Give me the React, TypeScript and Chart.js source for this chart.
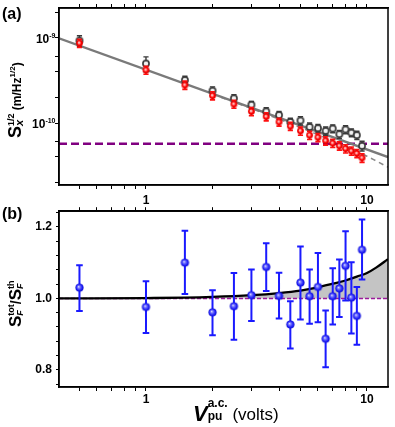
import React, { useEffect, useRef } from 'react';
import { Chart, registerables } from 'chart.js';

Chart.register(...registerables);

const FONT = '"Liberation Sans", Arial, Helvetica, sans-serif';

// ---------- shared x (pump voltage) ----------
const X_MIN = 0.404;
const X_MAX = 12.45;
const VOLTS = [0.5, 1, 1.5, 2, 2.5, 3, 3.5, 4, 4.5, 5, 5.5, 6, 6.5, 7, 7.5, 8, 8.5, 9, 9.5];
const X_TICKS = [0.5, 0.6, 0.7, 0.8, 0.9, 1, 2, 3, 4, 5, 6, 7, 8, 9, 10];
const X_LABELS: Record<string, string> = { '1': '1', '10': '10' };

// ---------- panel (a) ----------
const SX_TOTAL = [9.3e-10, 5.0e-10, 3.2e-10, 2.4e-10, 1.95e-10, 1.64e-10, 1.37e-10, 1.24e-10, 1.03e-10, 1.07e-10, 9.0e-11, 8.7e-11, 8.1e-11, 8.6e-11, 7.4e-11, 8.4e-11, 7.7e-11, 7.2e-11, 5.4e-11];
const SX_TOTAL_ERR = [1.3e-10, 1.0e-10, 3.5e-11, 2.6e-11, 2.1e-11, 1.6e-11, 1.4e-11, 1.3e-11, 1.1e-11, 1.2e-11, 1.0e-11, 9e-12, 9e-12, 9e-12, 8e-12, 9e-12, 8e-12, 8e-12, 7e-12];
const SX_CORR = [8.7e-10, 4.2e-10, 2.8e-10, 2.1e-10, 1.67e-10, 1.37e-10, 1.19e-10, 1.03e-10, 9.2e-11, 8.1e-11, 7.2e-11, 6.8e-11, 6.2e-11, 5.8e-11, 5.4e-11, 5.0e-11, 4.7e-11, 4.4e-11, 3.9e-11];
const SX_CORR_ERR = [9.5e-11, 4.6e-11, 3.1e-11, 2.3e-11, 1.8e-11, 1.5e-11, 1.3e-11, 1.1e-11, 1.0e-11, 9e-12, 8e-12, 7.5e-12, 7e-12, 6.5e-12, 6e-12, 5.5e-12, 5.2e-12, 4.8e-12, 4.5e-12];
const FIT_X = [0.404, 12.45];
const FIT_Y = [9.92e-10, 3.98e-11];
const MODEL_X = [2, 3, 4, 5, 6, 7, 8, 9, 10, 11, 12.45];
const MODEL_Y = [2.19e-10, 1.48e-10, 1.11e-10, 8.85e-11, 7.3e-11, 6.15e-11, 5.31e-11, 4.62e-11, 4.08e-11, 3.59e-11, 3.03e-11];
const FLOOR_Y = 5.7e-11;
const YA_MIN = 1.87e-11;
const YA_MAX = 2.25e-9;
const YA_TICKS = [2e-11, 4e-11, 6e-11, 1e-10, 2e-10, 4e-10, 6e-10, 1e-9, 2e-9];
const YA_LABELS: [number, string][] = [[1e-9, '-9'], [1e-10, '-10']];

// ---------- panel (b) ----------
const RATIO = [1.030, 0.976, 1.100, 0.961, 0.978, 1.009, 1.088, 1.007, 0.927, 1.044, 1.006, 1.032, 0.887, 1.006, 1.028, 1.091, 1.002, 0.951, 1.136];
const RATIO_HI = [1.093, 1.048, 1.189, 1.023, 1.071, 1.081, 1.154, 1.072, 0.992, 1.145, 1.081, 1.127, 0.966, 1.084, 1.109, 1.188, 1.101, 1.032, 1.221];
const RATIO_LO = [0.965, 0.903, 1.012, 0.897, 0.884, 0.937, 1.021, 0.944, 0.860, 0.941, 0.929, 0.933, 0.807, 0.927, 0.948, 0.994, 0.902, 0.870, 1.053];
const CURVE_X = [0.404, 1, 1.5, 2, 3, 4, 5, 6, 7, 8, 9, 10, 11, 12.45];
const CURVE_Y = [1.0, 1.001, 1.002, 1.004, 1.009, 1.015, 1.022, 1.031, 1.041, 1.050, 1.061, 1.071, 1.086, 1.110];
const UNITY = 1.0;
const YB_MIN = 0.752;
const YB_MAX = 1.244;
const YB_TICKS = [0.76, 0.8, 0.84, 0.88, 0.92, 0.96, 1.0, 1.04, 1.08, 1.12, 1.16, 1.2, 1.24];
const YB_LABELS: Record<string, string> = { '0.80': '0.8', '1.00': '1.0', '1.20': '1.2' };

const pts = (xs: number[], ys: number[]) => xs.map((x, i) => ({ x, y: ys[i] }));

function makeMarker(size: number, draw: (c: CanvasRenderingContext2D, m: number) => void) {
  const cv = document.createElement('canvas');
  cv.width = size;
  cv.height = size;
  const c = cv.getContext('2d')!;
  draw(c, size / 2);
  return cv;
}

type Seg = { t: string; f: string; dy?: number; stack?: boolean };
function drawRich(ctx: CanvasRenderingContext2D, x: number, y: number, segs: Seg[], angle: number) {
  ctx.save();
  ctx.translate(x, y);
  ctx.rotate(angle);
  ctx.textBaseline = 'alphabetic';
  ctx.textAlign = 'left';
  ctx.fillStyle = '#000';
  let cx = 0;
  let prevStart = 0;
  let prevW = 0;
  for (const s of segs) {
    ctx.font = s.f;
    const w = ctx.measureText(s.t).width;
    let sx = cx;
    if (s.stack) {
      sx = prevStart;
      cx = prevStart + Math.max(prevW, w);
    } else {
      cx = sx + w;
    }
    ctx.fillText(s.t, sx, s.dy || 0);
    prevStart = sx;
    prevW = w;
  }
  ctx.restore();
}

const errPlugin = {
  id: 'errbars',
  beforeDatasetDraw(chart: any, args: any) {
    const ds = chart.data.datasets[args.index];
    if (!ds.errLo) return;
    const ctx = chart.ctx;
    const ys = args.meta.yScale;
    ctx.save();
    ctx.strokeStyle = ds.errColor;
    ctx.lineWidth = ds.errWidth;
    ctx.beginPath();
    args.meta.data.forEach((p: any, i: number) => {
      const x = p.x;
      const yt = ys.getPixelForValue(ds.errHi[i]);
      const yb = ys.getPixelForValue(ds.errLo[i]);
      const c = ds.errCap;
      ctx.moveTo(x, yt);
      ctx.lineTo(x, yb);
      ctx.moveTo(x - c, yt);
      ctx.lineTo(x + c, yt);
      ctx.moveTo(x - c, yb);
      ctx.lineTo(x + c, yb);
    });
    ctx.stroke();
    ctx.restore();
  },
};

const frame = (chart: any) => {
  const { left, top, right, bottom } = chart.chartArea;
  const ctx = chart.ctx;
  ctx.save();
  ctx.strokeStyle = '#000';
  ctx.lineWidth = 1.5;
  ctx.strokeRect(left, top, right - left, bottom - top);
  ctx.restore();
};

const setTicks = (vals: number[]) => (s: any) => {
  s.ticks = vals.map((v) => ({ value: v }));
};

const gridOpts = (len: number) => ({
  display: true,
  drawOnChartArea: false,
  drawTicks: true,
  tickLength: len,
  color: '#000',
  lineWidth: 1,
});
const borderOpts = { display: true, color: '#000', width: 1.5 };
const tickFont = { family: FONT, size: 12, weight: 'bold' as const };

function xAxes(bottomH: number, topH: number, pad: number) {
  return {
    x: {
      type: 'logarithmic',
      position: 'bottom',
      min: X_MIN,
      max: X_MAX,
      bounds: 'data',
      afterBuildTicks: setTicks(X_TICKS),
      afterFit: (s: any) => {
        s.height = bottomH;
      },
      grid: gridOpts(4),
      border: borderOpts,
      ticks: {
        autoSkip: false,
        maxRotation: 0,
        minRotation: 0,
        padding: pad,
        color: '#000',
        font: tickFont,
        callback: (v: any) => X_LABELS[String(v)] ?? '',
      },
    },
    x2: {
      type: 'logarithmic',
      position: 'top',
      min: X_MIN,
      max: X_MAX,
      bounds: 'data',
      afterBuildTicks: setTicks(X_TICKS),
      afterFit: (s: any) => {
        s.height = topH;
      },
      grid: gridOpts(4),
      border: borderOpts,
      ticks: { display: false, autoSkip: false },
    },
  };
}

export default function App() {
  const refA = useRef<HTMLCanvasElement>(null);
  const refB = useRef<HTMLCanvasElement>(null);

  useEffect(() => {
    const redMarker = makeMarker(9, (c, m) => {
      const g = c.createRadialGradient(m - 0.6, m - 0.6, 0, m, m, 3.4);
      g.addColorStop(0, '#ffffff');
      g.addColorStop(0.3, '#ff9090');
      g.addColorStop(0.6, '#ff0000');
      g.addColorStop(1, '#e00000');
      c.fillStyle = g;
      c.beginPath();
      c.arc(m, m, 3.4, 0, Math.PI * 2);
      c.fill();
    });
    const openMarker = makeMarker(10, (c, m) => {
      c.fillStyle = '#f2f2f2';
      c.strokeStyle = '#383838';
      c.lineWidth = 1.6;
      c.beginPath();
      c.arc(m, m, 3.1, 0, Math.PI * 2);
      c.fill();
      c.stroke();
    });
    const blueMarker = makeMarker(11, (c, m) => {
      const g = c.createRadialGradient(m - 1, m - 1, 0, m, m, 4.1);
      g.addColorStop(0, '#e0e0ff');
      g.addColorStop(0.35, '#7070ff');
      g.addColorStop(0.75, '#1c1cf5');
      g.addColorStop(1, '#1010d0');
      c.fillStyle = g;
      c.beginPath();
      c.arc(m, m, 4.1, 0, Math.PI * 2);
      c.fill();
    });

    const textA = {
      id: 'textA',
      afterDraw(chart: any) {
        frame(chart);
        const ctx = chart.ctx;
        const ys = chart.scales.y;
        ctx.save();
        ctx.fillStyle = '#000';
        ctx.textBaseline = 'alphabetic';
        ctx.textAlign = 'left';
        for (const [v, exp] of YA_LABELS) {
          const y = ys.getPixelForValue(v);
          ctx.font = `bold 7px ${FONT}`;
          const we = ctx.measureText(exp).width;
          ctx.font = `bold 12px ${FONT}`;
          const wb = ctx.measureText('10').width;
          const right = 55.5;
          ctx.fillText('10', right - we - wb, y + 4.6);
          ctx.font = `bold 7px ${FONT}`;
          ctx.fillText(exp, right - we, y - 0.3);
        }
        ctx.font = `bold 16px ${FONT}`;
        ctx.fillText('(a)', 2, 19);
        ctx.restore();
        drawRich(ctx, 21, 138, [
          { t: 'S', f: `bold 18px ${FONT}` },
          { t: 'x', f: `italic bold 11px ${FONT}`, dy: 2 },
          { t: '1/2', f: `bold 9px ${FONT}`, dy: -7, stack: true },
          { t: ' (m/Hz', f: `bold 12px ${FONT}` },
          { t: '1/2', f: `bold 8px ${FONT}`, dy: -6 },
          { t: ')', f: `bold 12px ${FONT}` },
        ], -Math.PI / 2);
      },
    };

    const textB = {
      id: 'textB',
      afterDraw(chart: any) {
        frame(chart);
        const ctx = chart.ctx;
        ctx.save();
        ctx.fillStyle = '#000';
        ctx.textBaseline = 'alphabetic';
        ctx.textAlign = 'left';
        ctx.font = `bold 16px ${FONT}`;
        ctx.fillText('(b)', 2, 18.5);
        ctx.restore();
        drawRich(ctx, 21, 127, [
          { t: 'S', f: `bold 17px ${FONT}` },
          { t: 'F', f: `italic bold 9px ${FONT}`, dy: 2 },
          { t: 'tot', f: `bold 9px ${FONT}`, dy: -7, stack: true },
          { t: '/', f: `bold 14px ${FONT}` },
          { t: 'S', f: `bold 17px ${FONT}` },
          { t: 'F', f: `italic bold 9px ${FONT}`, dy: 2 },
          { t: 'th', f: `bold 9px ${FONT}`, dy: -7, stack: true },
        ], -Math.PI / 2);
        drawRich(ctx, 193, 220.5, [
          { t: 'V', f: `italic bold 22px ${FONT}` },
          { t: 'a.c.', f: `bold 12px ${FONT}`, dy: -13.5 },
          { t: 'pu', f: `bold 12px ${FONT}`, dy: -0.5, stack: true },
          { t: ' (volts)', f: `17px ${FONT}`, dy: -0.5 },
        ], 0);
      },
    };

    const common = {
      animation: false,
      responsive: false,
      devicePixelRatio: 1,
      events: [],
      plugins: { legend: { display: false }, tooltip: { enabled: false } },
    };

    const chartA = new Chart(refA.current!, {
      type: 'line',
      data: {
        datasets: [
          {
            label: 'corrected',
            data: pts(VOLTS, SX_CORR),
            showLine: false,
            pointStyle: redMarker,
            pointRadius: 4,
            errHi: SX_CORR.map((v, i) => v + SX_CORR_ERR[i]),
            errLo: SX_CORR.map((v, i) => v - SX_CORR_ERR[i]),
            errColor: '#ff1010',
            errWidth: 1.6,
            errCap: 2.6,
          } as any,
          {
            label: 'total',
            data: pts(VOLTS, SX_TOTAL),
            showLine: false,
            pointStyle: openMarker,
            pointRadius: 4,
            errHi: SX_TOTAL.map((v, i) => v + SX_TOTAL_ERR[i]),
            errLo: SX_TOTAL.map((v, i) => v - SX_TOTAL_ERR[i]),
            errColor: '#3a3a3a',
            errWidth: 1.4,
            errCap: 2.6,
          } as any,
          {
            label: 'fit',
            data: pts(FIT_X, FIT_Y),
            pointRadius: 0,
            borderColor: '#7a7a7a',
            borderWidth: 2.4,
            tension: 0,
          },
          {
            label: 'model',
            data: pts(MODEL_X, MODEL_Y),
            pointRadius: 0,
            borderColor: '#8a8a8a',
            borderWidth: 1.6,
            borderDash: [5, 4],
            cubicInterpolationMode: 'monotone',
          },
          {
            label: 'floor',
            data: pts([X_MIN, X_MAX], [FLOOR_Y, FLOOR_Y]),
            pointRadius: 0,
            borderColor: '#800080',
            borderWidth: 2.5,
            borderDash: [8, 4],
          },
        ],
      },
      options: {
        ...common,
        layout: { padding: { left: 0, right: 7, top: 0, bottom: 0 } },
        scales: {
          ...xAxes(27, 8, 4),
          y: {
            type: 'logarithmic',
            position: 'left',
            min: YA_MIN,
            max: YA_MAX,
            bounds: 'data',
            afterBuildTicks: setTicks(YA_TICKS),
            afterFit: (s: any) => {
              s.width = 59;
            },
            grid: gridOpts(4),
            border: borderOpts,
            ticks: { display: false, autoSkip: false },
          },
        },
      } as any,
      plugins: [errPlugin, textA],
    });

    const chartB = new Chart(refB.current!, {
      type: 'line',
      data: {
        datasets: [
          {
            label: 'ratio',
            data: pts(VOLTS, RATIO),
            showLine: false,
            pointStyle: blueMarker,
            pointRadius: 4,
            errHi: RATIO_HI,
            errLo: RATIO_LO,
            errColor: '#1a1aff',
            errWidth: 2,
            errCap: 3.3,
          } as any,
          {
            label: 'model',
            data: pts(CURVE_X, CURVE_Y),
            pointRadius: 0,
            borderColor: '#000',
            borderWidth: 2.3,
            cubicInterpolationMode: 'monotone',
          },
          {
            label: 'unity',
            data: pts([X_MIN, X_MAX], [UNITY, UNITY]),
            pointRadius: 0,
            borderColor: '#9a1a9a',
            borderWidth: 1.5,
            borderDash: [4, 2],
          },
          {
            label: 'excess',
            data: pts(CURVE_X, CURVE_Y),
            pointRadius: 0,
            borderColor: 'rgba(0,0,0,0)',
            borderWidth: 0,
            fill: { value: UNITY },
            backgroundColor: '#c4c4c4',
            cubicInterpolationMode: 'monotone',
          },
        ],
      },
      options: {
        ...common,
        layout: { padding: { left: 0, right: 7, top: 0, bottom: 0 } },
        scales: {
          ...xAxes(40, 11, 1),
          y: {
            type: 'linear',
            position: 'left',
            min: YB_MIN,
            max: YB_MAX,
            bounds: 'data',
            afterBuildTicks: setTicks(YB_TICKS),
            afterFit: (s: any) => {
              s.width = 59;
            },
            grid: gridOpts(3),
            border: borderOpts,
            ticks: {
              autoSkip: false,
              padding: 4,
              color: '#000',
              font: tickFont,
              callback: (v: any) => YB_LABELS[Number(v).toFixed(2)] ?? '',
            },
          },
        },
      } as any,
      plugins: [errPlugin, textB],
    });

    return () => {
      chartA.destroy();
      chartB.destroy();
    };
  }, []);

  return (
    <div style={{ position: 'absolute', left: 0, top: 0, width: 395, height: 427, background: '#fff' }}>
      <canvas ref={refA} width={395} height={212} style={{ position: 'absolute', left: 0, top: 0 }} />
      <canvas ref={refB} width={395} height={227} style={{ position: 'absolute', left: 0, top: 200 }} />
    </div>
  );
}
